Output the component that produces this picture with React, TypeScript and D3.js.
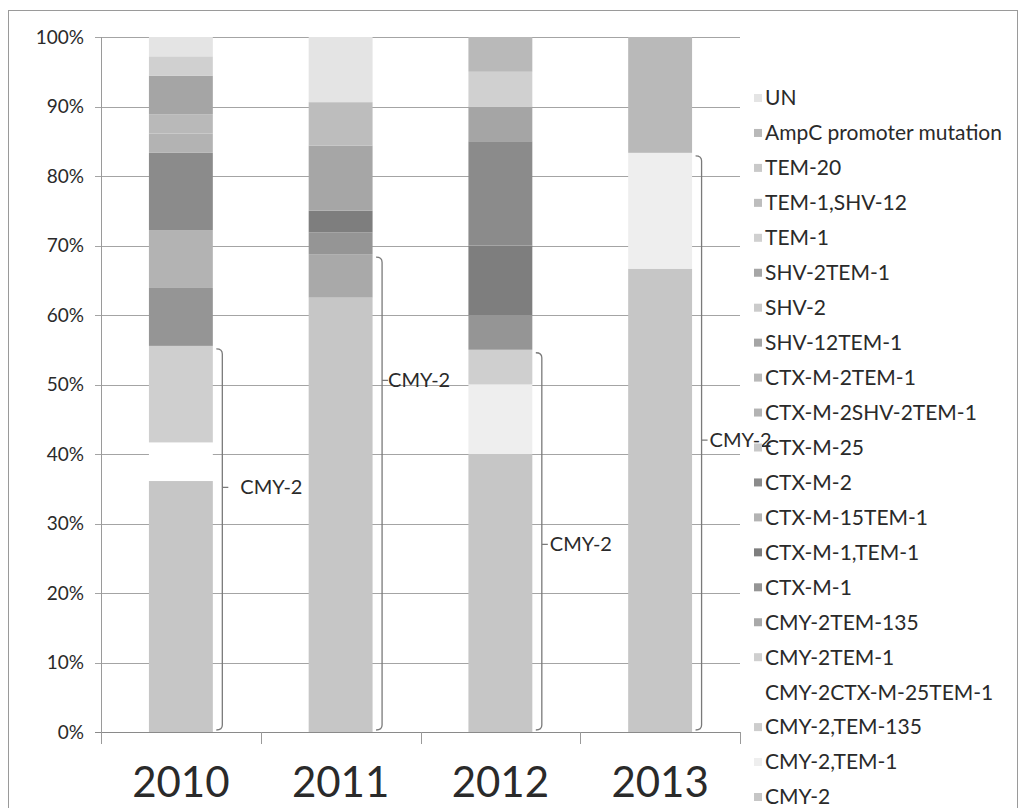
import React from "react";
import * as d3 from "d3";

// Stacked composition of beta-lactamase genotypes per isolation year (share of isolates, %)
const years = ["2010", "2011", "2012", "2013"];

// Genotypes in stacking order, bottom of each column first
const genotypes = [
  "CMY-2",
  "CMY-2,TEM-1",
  "CMY-2,TEM-135",
  "CMY-2CTX-M-25TEM-1",
  "CMY-2TEM-1",
  "CMY-2TEM-135",
  "CTX-M-1",
  "CTX-M-1,TEM-1",
  "CTX-M-15TEM-1",
  "CTX-M-2",
  "CTX-M-25",
  "CTX-M-2SHV-2TEM-1",
  "CTX-M-2TEM-1",
  "SHV-12TEM-1",
  "SHV-2",
  "SHV-2TEM-1",
  "TEM-1",
  "TEM-1,SHV-12",
  "TEM-20",
  "AmpC promoter mutation",
  "UN",
];

// Isolate counts per genotype, aligned with `genotypes`
const counts2010 = [13, 0, 0, 2, 5, 0, 3, 0, 3, 4, 0, 1, 1, 2, 0, 0, 1, 0, 0, 0, 1];
const counts2011 = [20, 0, 0, 0, 0, 2, 1, 1, 0, 0, 0, 0, 0, 0, 0, 3, 0, 2, 0, 0, 3];
const counts2012 = [8, 2, 0, 0, 1, 0, 1, 2, 0, 3, 0, 0, 0, 1, 0, 0, 1, 0, 0, 1, 0];
const counts2013 = [4, 1, 0, 0, 0, 0, 0, 0, 0, 0, 0, 0, 0, 0, 0, 0, 0, 0, 0, 1, 0];

const percentTicks = [0, 10, 20, 30, 40, 50, 60, 70, 80, 90, 100];

// Grey shade of each genotype, aligned with `genotypes`
const genotypeShades = [
  "#c6c6c6", "#eeeeee", "#cdcdcd", "#ffffff", "#cfcfcf", "#a9a9a9", "#959595",
  "#7e7e7e", "#b3b3b3", "#8b8b8b", "#c8c8c8", "#b3b3b3", "#b9b9b9", "#a5a5a5",
  "#cbcbcb", "#a6a6a6", "#d0d0d0", "#bdbdbd", "#c9c9c9", "#b9b9b9", "#e4e4e4",
];

// Brace annotation: the label sits at this share (%) along each year's CMY-2 group
const braceLabel = "CMY-2";
const braceLabelAt = [35.2, 50.6, 27, 42];
const braceLabelDx = [18, 6, 8, 8];

const FONT = "Lato, 'Open Sans', sans-serif";

export default function App() {
  const W = 1019;
  const H = 808;
  const plotLeft = 101;
  const plotRight = 740;
  const plotTop = 37;
  const plotBottom = 732;

  const x = d3
    .scaleBand<string>()
    .domain(years)
    .range([plotLeft, plotRight])
    .paddingInner(0.6)
    .paddingOuter(0.3);
  const y = d3.scaleLinear().domain([0, 100]).range([plotBottom, plotTop]);

  const countsByYear = [counts2010, counts2011, counts2012, counts2013];
  const rows = years.map((yr, i) => {
    const total = d3.sum(countsByYear[i]);
    const row: Record<string, any> = { year: yr };
    genotypes.forEach((g, j) => {
      row[g] = (countsByYear[i][j] / total) * 100;
    });
    return row;
  });
  const series = d3.stack<Record<string, any>>().keys(genotypes)(rows);

  // CMY-2 group height per year (all genotypes carrying CMY-2)
  const cmyTop = rows.map((r) =>
    d3.sum(genotypes.filter((g) => g.startsWith("CMY-2")), (g) => r[g])
  );

  const step = x.step();
  const boundaries = d3.range(years.length + 1).map((i) => plotLeft + i * step);

  const legendTop = 98;
  const legendStep = 34.95;
  const legendItems = genotypes.map((g, i) => ({ g, shade: genotypeShades[i] })).reverse();

  return (
    <svg
      width={W}
      height={H}
      style={{ position: "absolute", left: 0, top: 0, background: "#fff" }}
      fontFamily={FONT}
    >
      <rect x={8.5} y={10.5} width={1009} height={810} fill="#fff" stroke="#9a9a9a" />

      {/* horizontal gridlines */}
      {percentTicks.map((t) => (
        <line
          key={`g${t}`}
          x1={plotLeft - 6}
          x2={plotRight}
          y1={Math.round(y(t)) + 0.5}
          y2={Math.round(y(t)) + 0.5}
          stroke={t === 0 ? "#8a8a8a" : "#a4a4a4"}
          strokeWidth={1}
        />
      ))}
      {/* value axis line */}
      <line x1={plotLeft + 0.5} x2={plotLeft + 0.5} y1={plotTop} y2={plotBottom} stroke="#9a9a9a" />
      {/* category ticks */}
      {boundaries.map((bx, i) => (
        <line
          key={`t${i}`}
          x1={Math.round(bx) + 0.5}
          x2={Math.round(bx) + 0.5}
          y1={plotBottom}
          y2={plotBottom + 12}
          stroke="#9a9a9a"
        />
      ))}

      {/* stacked columns */}
      {series.map((s, si) => (
        <g key={s.key} fill={genotypeShades[si]}>
          {s.map((d, di) =>
            d[1] - d[0] > 0 ? (
              <rect
                key={di}
                x={x(years[di])}
                y={y(d[1])}
                width={x.bandwidth()}
                height={y(d[0]) - y(d[1])}
              />
            ) : null
          )}
        </g>
      ))}

      {/* y tick labels */}
      {percentTicks.map((t) => (
        <text
          key={`l${t}`}
          x={84}
          y={y(t)}
          dy="0.35em"
          textAnchor="end"
          fontSize={19}
          fill="#2a2a2a"
        >
          {`${t}%`}
        </text>
      ))}

      {/* year labels */}
      {years.map((yr) => (
        <text
          key={yr}
          x={(x(yr) as number) + x.bandwidth() / 2}
          y={797}
          textAnchor="middle"
          fontSize={42}
          fill="#2a2a2a"
        >
          {yr}
        </text>
      ))}

      {/* CMY-2 braces */}
      {years.map((yr, i) => {
        const bx = (x(yr) as number) + x.bandwidth() + 9.5;
        const top = y(cmyTop[i]) + 3;
        const bottom = y(0) - 2;
        const ly = y(braceLabelAt[i]);
        const path = `M${bx - 6},${top} Q${bx},${top} ${bx},${top + 5} L${bx},${bottom - 5} Q${bx},${bottom} ${bx - 6},${bottom} M${bx},${ly} L${bx + 6},${ly}`;
        return (
          <g key={`b${yr}`}>
            <path d={path} fill="none" stroke="#7a7a7a" strokeWidth={1.3} />
            <text
              x={bx + braceLabelDx[i]}
              y={ly}
              dy="0.35em"
              fontSize={20}
              fill="#2a2a2a"
            >
              {braceLabel}
            </text>
          </g>
        );
      })}

      {/* legend */}
      {legendItems.map((it, i) => {
        const ly = legendTop + i * legendStep;
        return (
          <g key={it.g}>
            {it.shade !== "#ffffff" && (
              <rect x={754} y={ly - 4} width={8} height={8} fill={it.shade} />
            )}
            <text x={765} y={ly} dy="0.35em" fontSize={21} fill="#2a2a2a">
              {it.g}
            </text>
          </g>
        );
      })}
    </svg>
  );
}
